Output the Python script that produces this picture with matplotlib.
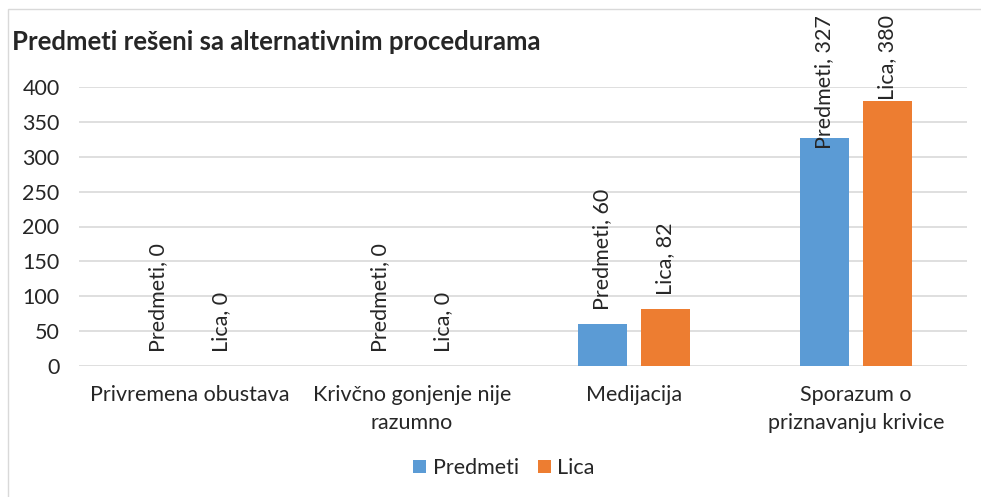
import numpy as np
import matplotlib.pyplot as plt
from matplotlib.patches import Rectangle

plt.rcParams['font.family'] = ['Lato', 'DejaVu Sans']

categories = ['Privremena obustava', 'Krivčno gonjenje nije\nrazumno',
              'Medijacija', 'Sporazum o\npriznavanju krivice']
predmeti = [0, 0, 60, 327]
lica = [0, 0, 82, 380]
series = [('Predmeti', predmeti, '#5B9BD5'), ('Lica', lica, '#ED7D31')]
yticks = [0, 50, 100, 150, 200, 250, 300, 350, 400]

fs = 15.5
fig = plt.figure(figsize=(9.81, 4.97), dpi=100)
# outer chart frame
fig.patches.append(Rectangle((8 / 981, -0.1), 1.2, 1 - 9 / 497 + 0.1,
                             transform=fig.transFigure, fill=False,
                             edgecolor='#D9D9D9', linewidth=1.0))
ax = fig.add_axes([79 / 981, 1 - 366 / 497, (967 - 79) / 981, (366 - 87) / 497])

x = np.arange(len(categories))
offset = 0.142
width = 0.225
labels = []
for i, (name, vals, col) in enumerate(series):
    pos = x + (i * 2 - 1) * offset
    ax.bar(pos, vals, width, color=col, label=name, zorder=2)
    for px, v in zip(pos, vals):
        t = ax.annotate('{}, {}'.format(name, v), (px, v), xytext=(0, 10),
                        textcoords='offset points', rotation=90, ha='center',
                        va='bottom', fontsize=fs, color='#262626',
                        annotation_clip=False, zorder=3)
        labels.append(t)

ax.set_xlim(-0.5, len(categories) - 0.5)
ax.set_ylim(0, 400)
ax.set_yticks(yticks)
ax.set_xticks(x)
ax.set_xticklabels(categories, fontsize=fs, color='#262626', linespacing=1.5)
ax.tick_params(axis='y', labelsize=fs, labelcolor='#262626', length=0, pad=14)
ax.tick_params(axis='x', length=0, pad=14)
ax.grid(axis='y', color='#D9D9D9', linewidth=1.2, zorder=0)
ax.set_axisbelow(True)
for s in ax.spines.values():
    s.set_visible(False)

fig.text(12 / 981, 1 - 42 / 497, 'Predmeti rešeni sa alternativnim procedurama',
         fontsize=18.5, fontweight='bold', color='#262626', va='center', ha='left')

ax.legend(loc='center', bbox_to_anchor=((504 - 79) / 888, -(468 - 366) / 279), ncol=2,
          frameon=False, fontsize=fs, handlelength=0.6, handleheight=0.6,
          handletextpad=0.3, columnspacing=0.9, labelcolor='#262626')

# labels that would run off the top are pushed down (like excel does)
fig.canvas.draw()
r = fig.canvas.get_renderer()
top_limit = 497 - 15
for t in labels:
    bb = t.get_window_extent(r)
    if bb.y1 > top_limit:
        shift = (bb.y1 - top_limit) * 72 / fig.dpi
        t.xyann = (0, 10 - shift)

fig.savefig('out.png', dpi=100)
